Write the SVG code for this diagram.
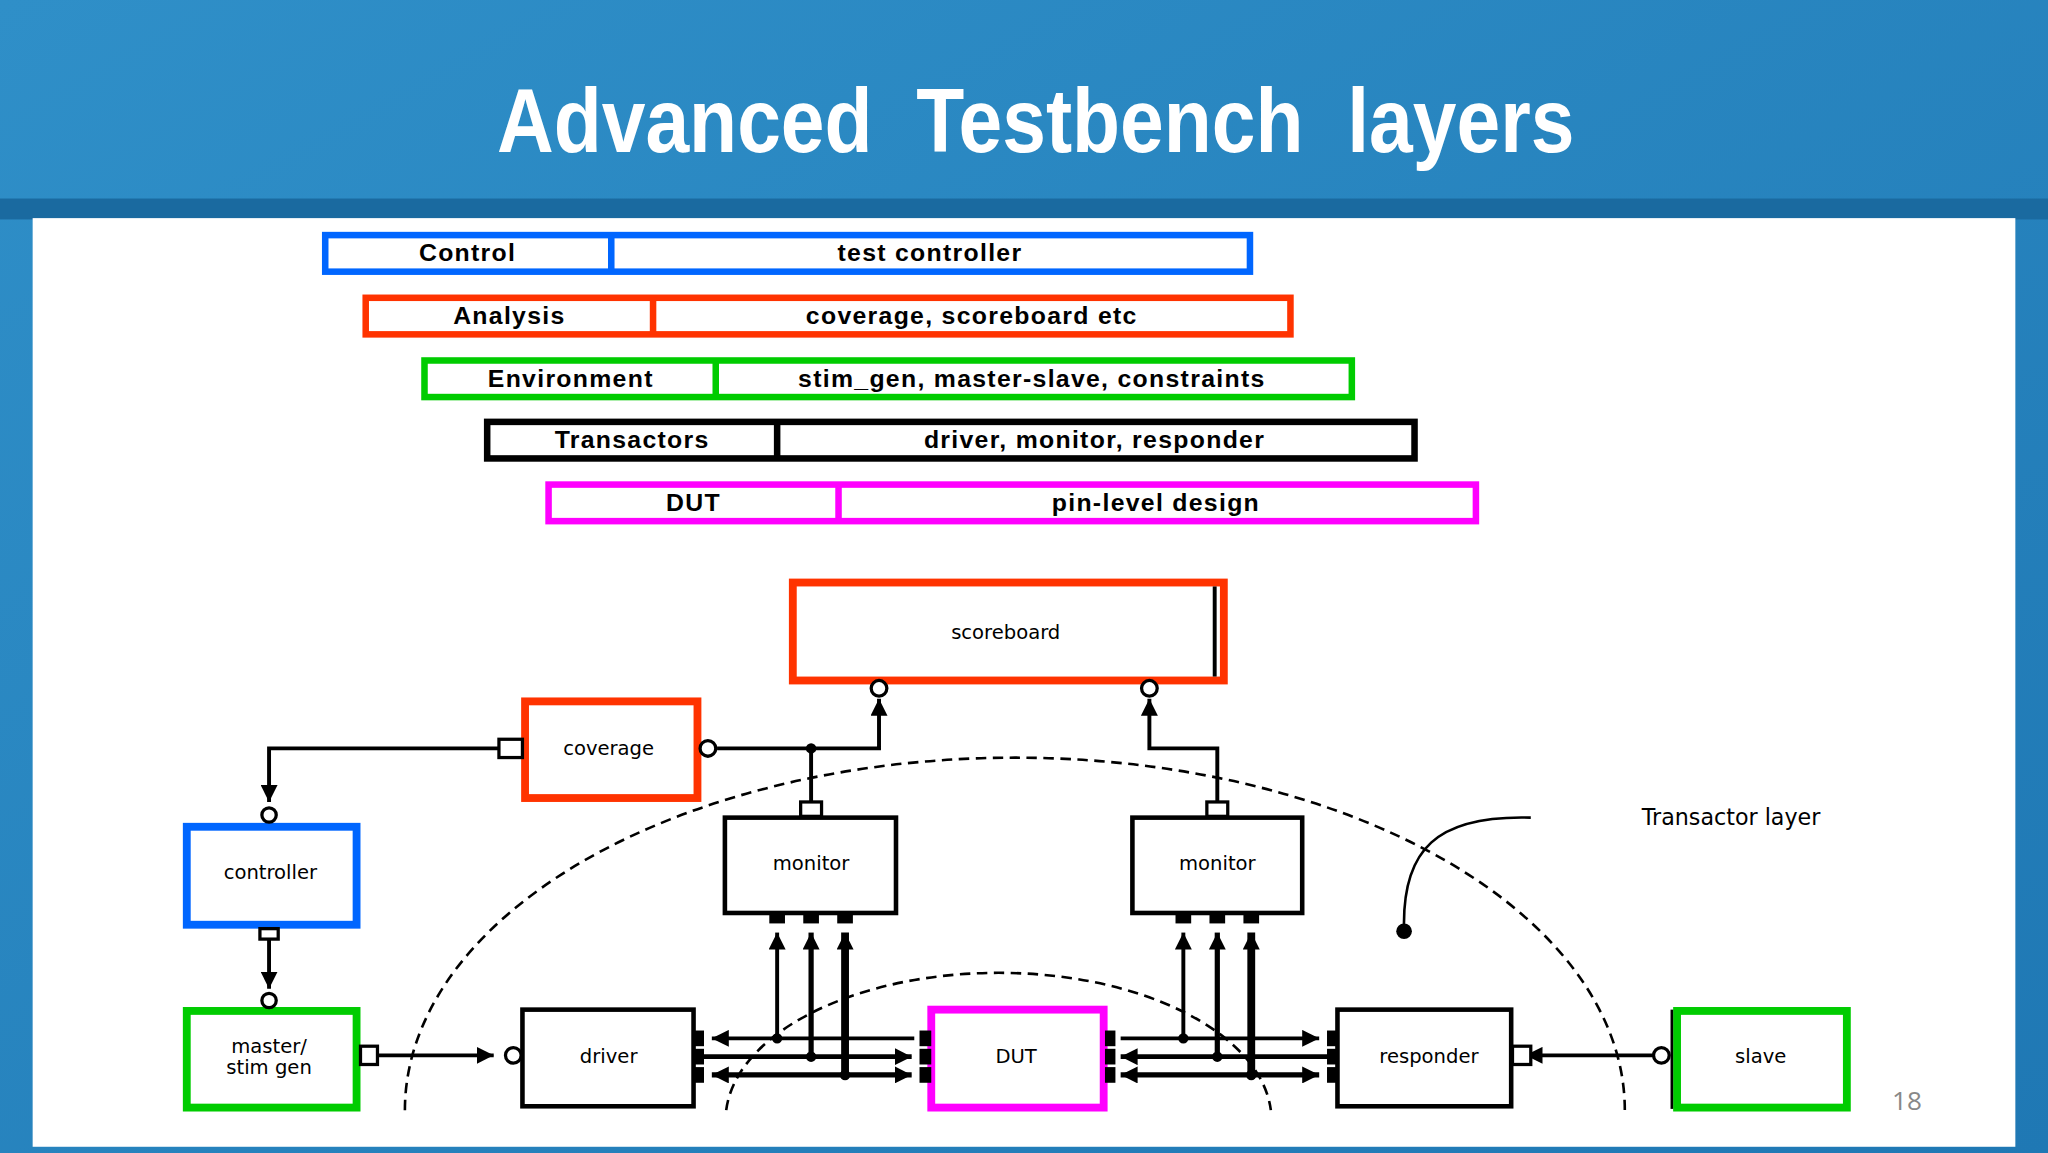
<svg xmlns="http://www.w3.org/2000/svg" width="2048" height="1153" viewBox="0 0 2048 1153">
<defs>
<marker id="a" viewBox="0 0 10 10" refX="10" refY="5" markerWidth="13" markerHeight="13" orient="auto-start-reverse" markerUnits="userSpaceOnUse"><path d="M0,0L10,5L0,10z" fill="#000"/></marker>
<linearGradient id="bg" x1="0" y1="0" x2="1" y2="1"><stop offset="0" stop-color="#2f8fc8"/><stop offset="1" stop-color="#1f78b4"/></linearGradient>
</defs>
<style>
.t{font-family:"DejaVu Sans",sans-serif;font-size:15px;fill:#000;text-anchor:middle}
.lt{font-family:"Liberation Sans",Arial,sans-serif;font-size:19px;font-weight:bold;fill:#000;text-anchor:middle;letter-spacing:1px}
.bx{fill:#fff}
.c{fill:none;stroke:#000;stroke-width:3}
.p{fill:#fff;stroke:#000;stroke-width:2.5}
.f{fill:#000}
.d{fill:none;stroke:#000;stroke-width:2;stroke-dasharray:8,5}
</style>
<rect width="2048" height="1153" fill="url(#bg)"/>
<g transform="scale(1.30612)">
<rect x="0" y="152" width="1568" height="16" fill="#1a6aa0"/>
<text x="793" y="116" xml:space="preserve" style="white-space:pre;font-family:'Liberation Sans',Arial,sans-serif;font-weight:bold;font-size:70px;fill:#fff;text-anchor:middle" transform="translate(793,0) scale(0.86,1) translate(-793,0)">Advanced  Testbench  layers</text>
<rect x="25" y="167" width="1518" height="711" fill="#fff"/>
<g id="layers">
<g id="l-control" fill="none" stroke="#0066ff" stroke-width="5"><rect x="249" y="180" width="708" height="28"/><line x1="468" y1="180" x2="468" y2="208"/></g>
<text class="lt" x="358" y="200">Control</text><text class="lt" x="712" y="200">test controller</text>
<g id="l-analysis" fill="none" stroke="#ff3300" stroke-width="5"><rect x="280" y="228" width="708" height="28"/><line x1="500" y1="228" x2="500" y2="256"/></g>
<text class="lt" x="390" y="248">Analysis</text><text class="lt" x="744" y="248">coverage, scoreboard etc</text>
<g id="l-env" fill="none" stroke="#00cc00" stroke-width="5"><rect x="325" y="276" width="710" height="28"/><line x1="548" y1="276" x2="548" y2="304"/></g>
<text class="lt" x="437" y="296">Environment</text><text class="lt" x="790" y="296">stim_gen, master-slave, constraints</text>
<g id="l-trans" fill="none" stroke="#000" stroke-width="5"><rect x="373" y="323" width="710" height="28"/><line x1="595" y1="323" x2="595" y2="351"/></g>
<text class="lt" x="484" y="343">Transactors</text><text class="lt" x="838" y="343">driver, monitor, responder</text>
<g id="l-dut" fill="none" stroke="#ff00ff" stroke-width="5"><rect x="420" y="371" width="710" height="28"/><line x1="642" y1="371" x2="642" y2="399"/></g>
<text class="lt" x="531" y="391">DUT</text><text class="lt" x="885" y="391">pin-level design</text>
</g>
<g id="arcs">
<path class="d" d="M310,850 A467,270 0 0 1 1244,850"/>
<path class="d" d="M556,850 A209,113 0 0 1 973,850"/>
</g>
<g id="scoreboard"><rect x="607" y="446" width="330" height="75" class="bx" stroke="#ff3300" stroke-width="6"/><line x1="930" y1="449" x2="930" y2="518" stroke="#000" stroke-width="3"/><text class="t" x="770" y="489">scoreboard</text></g>
<g id="coverage"><rect x="402" y="537" width="132" height="74" class="bx" stroke="#ff3300" stroke-width="6"/><text class="t" x="466" y="578">coverage</text></g>
<g id="controller"><rect x="143" y="633" width="130" height="75" class="bx" stroke="#0066ff" stroke-width="6"/><text class="t" x="207" y="673">controller</text></g>
<g id="master"><rect x="143" y="774" width="130" height="74" class="bx" stroke="#00cc00" stroke-width="6"/><text class="t" x="206" y="806">master/</text><text class="t" x="206" y="822">stim gen</text></g>
<g id="monitor1"><rect x="555" y="626" width="131" height="73" class="bx" stroke="#000" stroke-width="3.5"/><text class="t" x="621" y="666">monitor</text></g>
<g id="monitor2"><rect x="867" y="626" width="130" height="73" class="bx" stroke="#000" stroke-width="3.5"/><text class="t" x="932" y="666">monitor</text></g>
<g id="driver"><rect x="400" y="773" width="131" height="74" class="bx" stroke="#000" stroke-width="3.5"/><text class="t" x="466" y="814">driver</text></g>
<g id="dut"><rect x="713" y="773" width="132" height="75" class="bx" stroke="#ff00ff" stroke-width="6"/><text class="t" x="778" y="814">DUT</text></g>
<g id="responder"><rect x="1024" y="773" width="133" height="74" class="bx" stroke="#000" stroke-width="3.5"/><text class="t" x="1094" y="814">responder</text></g>
<g id="slave"><rect x="1284" y="774" width="130" height="74" class="bx" stroke="#00cc00" stroke-width="6"/><line x1="1280" y1="773" x2="1280" y2="849" stroke="#000" stroke-width="2"/><text class="t" x="1348" y="814">slave</text></g>
<text x="1257" y="632" style="font-family:'DejaVu Sans',sans-serif;font-size:17px;fill:#000">Transactor layer</text>
<text x="1460" y="850" style="font-family:'Open Sans',sans-serif;font-size:20px;fill:#888;text-anchor:middle">18</text>
<g id="connectors">
<path class="c" d="M383,573H206V614" marker-end="url(#a)"/>
<rect class="p" x="382" y="566" width="18" height="14"/>
<circle class="p" cx="206" cy="624" r="5.5"/>
<path class="c" d="M206,719V757" marker-end="url(#a)"/>
<rect class="p" x="199" y="711" width="14" height="8"/>
<circle class="p" cx="206" cy="766" r="5.5"/>
<path class="c" d="M290,808H378" marker-end="url(#a)"/>
<rect class="p" x="276" y="801" width="13" height="14"/>
<circle class="p" cx="393" cy="808" r="6"/>
<path class="c" d="M549,573H673V535" marker-end="url(#a)"/>
<circle class="p" cx="542" cy="573" r="6"/>
<circle class="p" cx="673" cy="527" r="6"/>
<path class="c" d="M621,573V614"/>
<circle class="f" cx="621" cy="573" r="4"/>
<rect class="p" x="613" y="614" width="16" height="11"/>
<path class="c" d="M932,614V573H880V535" marker-end="url(#a)"/>
<rect class="p" x="924" y="614" width="16" height="11"/>
<circle class="p" cx="880" cy="527" r="6"/>
<path class="c" d="M1266,808H1168" marker-end="url(#a)"/>
<rect class="p" x="1158" y="801" width="14" height="14"/>
<circle class="p" cx="1272" cy="808" r="6"/>
<path fill="none" stroke="#000" stroke-width="2" d="M1172,626C1100,624 1073,650 1075,713"/>
<circle class="f" cx="1075" cy="713" r="6"/>
<g stroke="#000" fill="none">
<path stroke-width="3" d="M700,795H545" marker-end="url(#a)"/>
<path stroke-width="3.5" d="M536,809H698" marker-end="url(#a)"/>
<path stroke-width="4" d="M545,823H698" marker-start="url(#a)" marker-end="url(#a)"/>
<path stroke-width="3" d="M595,795V714" marker-end="url(#a)"/>
<path stroke-width="4" d="M621,809V714" marker-end="url(#a)"/>
<path stroke-width="6" d="M647,823V714" marker-end="url(#a)"/>
<path stroke-width="3" d="M858,795H1010" marker-end="url(#a)"/>
<path stroke-width="3.5" d="M1020,809H858" marker-end="url(#a)"/>
<path stroke-width="4" d="M858,823H1010" marker-start="url(#a)" marker-end="url(#a)"/>
<path stroke-width="3" d="M906,795V714" marker-end="url(#a)"/>
<path stroke-width="4" d="M932,809V714" marker-end="url(#a)"/>
<path stroke-width="6" d="M958,823V714" marker-end="url(#a)"/>
</g>
<g class="f">
<rect x="531" y="789" width="8" height="12"/><rect x="531" y="803" width="8" height="12"/><rect x="531" y="817" width="8" height="12"/>
<rect x="704" y="789" width="9" height="12"/><rect x="704" y="803" width="9" height="12"/><rect x="704" y="817" width="9" height="12"/>
<rect x="846" y="789" width="8" height="12"/><rect x="846" y="803" width="8" height="12"/><rect x="846" y="817" width="8" height="12"/>
<rect x="1016" y="789" width="8" height="12"/><rect x="1016" y="803" width="8" height="12"/><rect x="1016" y="817" width="8" height="12"/>
<rect x="589" y="699" width="12" height="8"/><rect x="615" y="699" width="12" height="8"/><rect x="641" y="699" width="12" height="8"/>
<rect x="900" y="699" width="12" height="8"/><rect x="926" y="699" width="12" height="8"/><rect x="952" y="699" width="12" height="8"/>
<circle cx="595" cy="795" r="4"/><circle cx="621" cy="809" r="4"/><circle cx="647" cy="823" r="4"/>
<circle cx="906" cy="795" r="4"/><circle cx="932" cy="809" r="4"/><circle cx="958" cy="823" r="4"/>
</g>
</g>
</g>
</svg>
